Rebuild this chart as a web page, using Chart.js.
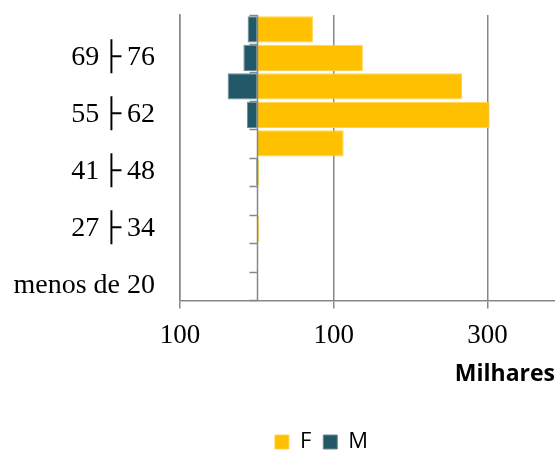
<!DOCTYPE html>
<html lang="pt">
<head>
    <meta charset="UTF-8">
    <title>Pirâmide</title>
    <script src="https://cdn.jsdelivr.net/npm/chart.js"></script>
    <style>
        body {
            margin: 0;
            background: #fff;
        }

        #wrap {
            width: 555px;
            height: 455px;
        }
    </style>
</head>
<body>

    <div id="wrap">
        <canvas id="pyramidChart" width="555" height="455"></canvas>
    </div>

    <script>
        // faixas etarias, de baixo para cima
        const faixas = ['menos de 20', '20├27', '27├34', '34├41', '41├48', '48├55', '55├62', '62├69', '69├76', '76 e mais'];
        // milhares
        const valoresF = [0, 0, 3, 0, 3, 113, 303, 267, 138, 73];
        const valoresM = [0, 0, 0, 0, 1, 0, 13, 38, 17.5, 12];
        const ticksX = [-100, 100, 300];

        const cinza = '#878787';

        // eixo vertical no zero, com as marcas entre as faixas
        const eixoCentral = {
            id: 'eixoCentral',
            afterDatasetsDraw(chart) {
                const { ctx, scales: { x, y } } = chart;
                const x0 = Math.round(x.getPixelForValue(0)) + 0.5;
                ctx.save();
                ctx.strokeStyle = cinza;
                ctx.lineWidth = 1.5;
                ctx.beginPath();
                ctx.moveTo(x0, y.top);
                ctx.lineTo(x0, y.bottom);
                for (let i = 0; i <= faixas.length; i++) {
                    const py = Math.round(y.getPixelForValue(i - 0.5)) + 0.5;
                    ctx.moveTo(x0, py);
                    ctx.lineTo(x0 - 8, py);
                }
                ctx.stroke();
                ctx.restore();
            }
        };

        // legenda um pouco deslocada para a direita, como no original
        const moveLegenda = {
            id: 'moveLegenda',
            afterLayout(chart) {
                chart.legend.left += 38;
                chart.legend.right += 38;
            }
        };

        const ctx = document.getElementById('pyramidChart').getContext('2d');
        const pyramidChart = new Chart(ctx, {
            type: 'bar',
            data: {
                labels: faixas,
                datasets: [{
                    label: 'F',
                    data: valoresF,
                    backgroundColor: '#FFC000',
                    borderColor: '#FFD34D',
                    borderWidth: 1,
                    barPercentage: 0.92,
                    categoryPercentage: 1
                }, {
                    label: 'M',
                    data: valoresM.map(v => -v),
                    backgroundColor: '#215968',
                    borderColor: '#6f8a92',
                    borderWidth: 1,
                    barPercentage: 0.92,
                    categoryPercentage: 1
                }]
            },
            plugins: [eixoCentral, moveLegenda],
            options: {
                indexAxis: 'y',
                responsive: false,
                animation: false,
                layout: {
                    padding: { left: 12, top: 15, right: 0, bottom: -8 }
                },
                plugins: {
                    tooltip: { enabled: false },
                    legend: {
                        position: 'bottom',
                        labels: {
                            color: '#000',
                            font: { family: 'Open Sans', size: 22 },
                            boxWidth: 14,
                            boxHeight: 14,
                            padding: 12
                        }
                    }
                },
                scales: {
                    x: {
                        stacked: true,
                        min: -100,
                        max: 388,
                        afterBuildTicks: scale => {
                            scale.ticks = ticksX.map(v => ({ value: v }));
                        },
                        grid: {
                            color: cinza,
                            lineWidth: 1.5,
                            tickLength: 8
                        },
                        border: { color: cinza, width: 1.5 },
                        ticks: {
                            color: '#000',
                            padding: 14,
                            font: { family: 'Liberation Serif', size: 27, lineHeight: 1 },
                            callback: v => Math.abs(v)
                        },
                        title: {
                            display: true,
                            text: 'Milhares',
                            align: 'end',
                            color: '#000',
                            font: { family: 'Open Sans', size: 23, weight: 'bold' },
                            padding: { top: -3, bottom: 31 }
                        }
                    },
                    y: {
                        stacked: true,
                        reverse: true,
                        grid: { display: false },
                        border: { color: cinza, width: 1.5 },
                        afterFit: scale => {
                            scale.width = 168;
                            scale.paddingTop = 0;
                            scale.paddingBottom = 0;
                        },
                        ticks: {
                            color: '#000',
                            padding: 17,
                            autoSkip: false,
                            font: { family: "'Liberation Serif', 'DejaVu Sans'", size: 28 },
                            callback: function (v, i) {
                                if (i % 2 !== 0) return '';
                                return this.getLabelForValue(v).replace('├', '\u200A├\u2009');
                            }
                        }
                    }
                }
            }
        });
    </script>

</body>
</html>
